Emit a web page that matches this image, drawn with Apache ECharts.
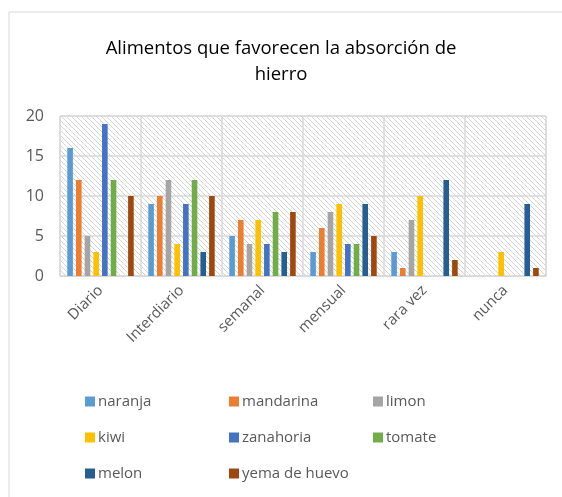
<!DOCTYPE html>
<html>
<head>
<meta charset="utf-8">
<script src="https://cdn.jsdelivr.net/npm/echarts@6/dist/echarts.min.js"></script>
<style>
  html, body { margin: 0; padding: 0; background: #fff; }
  #chart { width: 562px; height: 497px; }
</style>
</head>
<body>
<div id="chart"></div>
<script>
const categories = ['Diario', 'Interdiario', 'semanal', 'mensual', 'rara vez', 'nunca']
const yTicks = [0, 5, 10, 15, 20]

const naranja = [16, 9, 5, 3, 3, 0]
const mandarina = [12, 10, 7, 6, 1, 0]
const limon = [5, 12, 4, 8, 7, 0]
const kiwi = [3, 4, 7, 9, 10, 3]
const zanahoria = [19, 9, 4, 4, 0, 0]
const tomate = [12, 12, 8, 4, 0, 0]
const melon = [0, 3, 3, 9, 12, 9]
const yemaDeHuevo = [10, 10, 8, 5, 2, 1]

const seriesNames = ['naranja', 'mandarina', 'limon', 'kiwi', 'zanahoria', 'tomate', 'melon', 'yema de huevo']
const seriesValues = [naranja, mandarina, limon, kiwi, zanahoria, tomate, melon, yemaDeHuevo]
const colors = ['#5B9BD5', '#ED7D31', '#A5A5A5', '#FFC000', '#4472C4', '#70AD47', '#255E91', '#9E480E']

// diagonal hatch for the plot background
const makeHatch = () => {
  const c = document.createElement('canvas')
  c.width = 5
  c.height = 5
  const ctx = c.getContext('2d')
  ctx.fillStyle = '#ffffff'
  ctx.fillRect(0, 0, 5, 5)
  ctx.strokeStyle = '#d4d4d4'
  ctx.lineWidth = 1
  ctx.beginPath()
  ctx.moveTo(-1, -1)
  ctx.lineTo(6, 6)
  ctx.moveTo(-1, 4)
  ctx.lineTo(1, 6)
  ctx.moveTo(4, -1)
  ctx.lineTo(6, 1)
  ctx.stroke()
  return c
}

const textColor = '#595959'
const font = 'Open Sans'

const legendCol = (left, names) => ({
  orient: 'vertical',
  left,
  top: 389,
  itemGap: 21,
  itemWidth: 10,
  itemHeight: 10,
  icon: 'rect',
  data: names,
  textStyle: { color: textColor, fontSize: 15, fontFamily: font, padding: [0, 0, 0, -2] },
})

const chart = echarts.init(document.getElementById('chart'))

const option = {
  animation: false,
  color: colors,
  title: {
    text: 'Alimentos que favorecen la absorción de\nhierro',
    left: 'center',
    top: 31,
    textStyle: { color: '#000', fontSize: 18.5, fontWeight: 'normal', fontFamily: font, lineHeight: 26 },
  },
  graphic: [
    {
      type: 'rect',
      shape: { x: 9, y: 12, width: 600, height: 600 },
      style: { fill: 'none', stroke: '#d9d9d9', lineWidth: 1 },
      silent: true,
    },
  ],
  legend: [
    legendCol(80, ['naranja', 'kiwi', 'melon']),
    legendCol(224, ['mandarina', 'zanahoria', 'yema de huevo']),
    legendCol(368, ['limon', 'tomate']),
  ],
  grid: {
    left: 60,
    top: 116,
    width: 486,
    height: 160,
    show: true,
    backgroundColor: { image: makeHatch(), repeat: 'repeat' },
    borderColor: '#d9d9d9',
    borderWidth: 1,
  },
  xAxis: {
    type: 'category',
    data: categories,
    axisLine: { show: true, lineStyle: { color: '#d9d9d9' } },
    axisTick: { show: false },
    splitLine: { show: true, lineStyle: { color: '#d9d9d9', width: 1.5 } },
    axisLabel: {
      rotate: 45,
      color: textColor,
      fontSize: 15,
      fontFamily: font,
      margin: 12,
    },
  },
  yAxis: {
    type: 'value',
    min: yTicks[0],
    max: yTicks[yTicks.length - 1],
    interval: 5,
    axisLine: { show: false },
    axisTick: { show: false },
    splitLine: { lineStyle: { color: '#d9d9d9', width: 1.5 } },
    axisLabel: { color: textColor, fontSize: 16, fontFamily: font, margin: 16 },
  },
  series: seriesNames.map((name, i) => ({
    name,
    type: 'bar',
    data: seriesValues[i],
    barGap: '55%',
    barCategoryGap: '18%',
  })),
}

chart.setOption(option)
</script>
</body>
</html>
